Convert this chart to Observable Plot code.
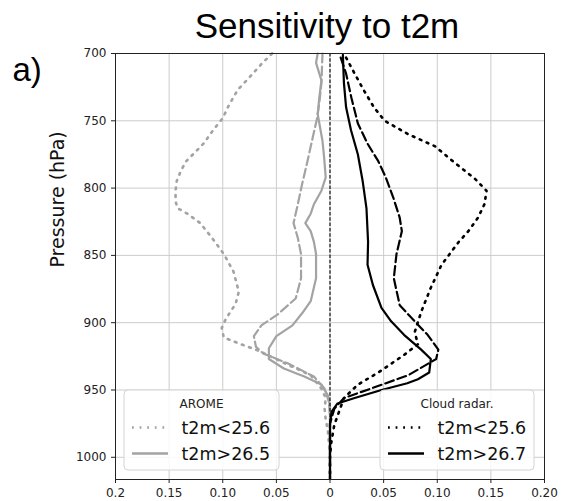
<!DOCTYPE html>
<html><head><meta charset="utf-8">
<script src="https://cdn.jsdelivr.net/npm/d3@7"></script>
<script src="https://cdn.jsdelivr.net/npm/@observablehq/plot@0.6"></script>
<style>body{margin:0;background:#fff;} #chart{position:relative;width:561px;height:501px;}</style>
</head><body><div id="chart"></div>
<script>
// ---- tick values and labels ----
const xTicks = [-0.2, -0.15, -0.1, -0.05, 0, 0.05, 0.1, 0.15, 0.2];
const xTickLabels = ["0.2", "0.15", "0.10", "0.05", "0", "0.05", "0.10", "0.15", "0.20"];
const yTicks = [700, 750, 800, 850, 900, 950, 1000];

// ---- series: [pressure (hPa), sensitivity] ----
const aromeCold = [[700,-0.054],[707,-0.063],[715,-0.072],[727,-0.086],[738,-0.094],[748,-0.100],[757,-0.109],[767,-0.118],[780,-0.134],[787,-0.139],[795,-0.143],[802,-0.144],[810,-0.144],[815,-0.142],[819,-0.133],[826,-0.121],[837,-0.110],[849,-0.099],[862,-0.090],[877,-0.085],[886,-0.088],[897,-0.097],[904,-0.101],[911,-0.099],[916,-0.083],[921,-0.066],[924,-0.058],[931,-0.040],[939,-0.018],[949,-0.008],[956,-0.004],[964,-0.005],[972,-0.004],[980,-0.002],[990,-0.001],[1000,0],[1016,0]];
const aromeMid = [[700,-0.007],[722,-0.008],[737,-0.010],[748,-0.012],[762,-0.016],[780,-0.021],[797,-0.026],[812,-0.030],[826,-0.034],[837,-0.030],[849,-0.027],[867,-0.027],[882,-0.032],[894,-0.049],[902,-0.064],[910,-0.071],[918,-0.069],[923,-0.062],[930,-0.040],[940,-0.015],[949,-0.005],[959,-0.001],[970,0],[1016,0]];
const aromeWarm = [[700,-0.0115],[707,-0.013],[720,-0.008],[733,-0.010],[745,-0.0115],[765,-0.007],[777,-0.0055],[792,-0.004],[802,-0.008],[812,-0.015],[819,-0.018],[826,-0.023],[832,-0.018],[840,-0.015],[849,-0.013],[867,-0.013],[884,-0.018],[893,-0.026],[902,-0.035],[910,-0.050],[919,-0.057],[927,-0.057],[934,-0.043],[940,-0.024],[946,-0.008],[954,-0.002],[962,0],[1016,0]];
const radarCold = [[703,0.015],[715,0.023],[728,0.032],[740,0.041],[750,0.051],[760,0.073],[769,0.098],[781,0.116],[793,0.135],[802,0.146],[812,0.144],[822,0.138],[832,0.129],[840,0.120],[857,0.104],[874,0.094],[892,0.085],[907,0.079],[916,0.082],[924,0.069],[937,0.045],[946,0.026],[956,0.013],[966,0.0085],[976,0.004],[990,0.001],[1000,0],[1016,0]];
const radarMid = [[703,0.010],[715,0.015],[733,0.020],[752,0.026],[767,0.035],[780,0.045],[792,0.052],[807,0.059],[822,0.065],[832,0.067],[849,0.062],[867,0.0595],[887,0.065],[899,0.079],[909,0.091],[920,0.101],[927,0.099],[939,0.073],[949,0.038],[956,0.013],[964,0.004],[975,0],[1016,0]];
const radarWarm = [[701,0.012],[722,0.013],[740,0.015],[757,0.0196],[775,0.026],[795,0.0305],[815,0.034],[840,0.0355],[857,0.035],[872,0.040],[889,0.048],[899,0.057],[909,0.069],[920,0.085],[927,0.094],[937,0.0925],[942,0.082],[945,0.072],[950,0.048],[956,0.023],[960,0.007],[966,0.0015],[975,0],[1016,0]];

const seriesNames = ["aromeCold","aromeMid","aromeWarm","radarCold","radarMid","radarWarm"];
const seriesData = [aromeCold, aromeMid, aromeWarm, radarCold, radarMid, radarWarm];
const legendTitles = ["AROME", "Cloud radar."];
const legendLabels = [["t2m<25.6", "t2m>26.5"], ["t2m<25.6", "t2m>26.7"]];
const titleText = "Sensitivity to t2m";
const panelLabel = "a)";
const yLabel = "Pressure (hPa)";

// ---- styles ----
const GRAY = "#a3a3a3", BLACK = "#000";
const DOT = "1.8,5.8", DASH = "9,4";
const styleOf = {
  aromeCold: {stroke: GRAY, dash: DOT},
  aromeMid: {stroke: GRAY, dash: DASH},
  aromeWarm: {stroke: GRAY, dash: null},
  radarCold: {stroke: BLACK, dash: DOT},
  radarMid: {stroke: BLACK, dash: DASH},
  radarWarm: {stroke: BLACK, dash: null}
};

const lineMarks = seriesNames.map((name, i) => {
  const rows = seriesData[i].map(([p, v]) => ({p, v}));
  const s = styleOf[name];
  return Plot.line(rows, {x: "v", y: "p", stroke: s.stroke,
    strokeWidth: s.dash === DOT ? 2.6 : 2.2,
    strokeDasharray: s.dash ?? undefined, curve: "linear"});
});

const fmtX = d => xTickLabels[xTicks.findIndex(t => Math.abs(t - d) < 1e-9)];

const plot = Plot.plot({
  width: 561, height: 501,
  marginLeft: 115, marginRight: 17, marginTop: 53, marginBottom: 22,
  style: {fontFamily: "DejaVu Sans", fontSize: "12px", color: "#222", background: "white", overflow: "visible"},
  x: {domain: [-0.2, 0.2], label: null},
  y: {domain: [700, 1016.5], reverse: true, label: null},
  marks: [
    Plot.gridX(xTicks, {stroke: "#cccccc", strokeOpacity: 1}),
    Plot.gridY(yTicks, {stroke: "#cccccc", strokeOpacity: 1}),
    ...lineMarks,
    Plot.ruleX([0], {stroke: "#000", strokeWidth: 1.1, strokeDasharray: "3.5,1.8"}),
    Plot.frame({stroke: "#222"}),
    Plot.axisX(xTicks, {tickSize: 4, tickPadding: 5, tickFormat: fmtX, label: null, fontSize: 12}),
    Plot.axisY(yTicks, {tickSize: 4, tickPadding: 5, tickFormat: d => String(d), label: null, fontSize: 12}),
    Plot.text([titleText], {text: d => d, frameAnchor: "top", lineAnchor: "bottom", dy: -16, dx: -3,
      fontSize: 35, fontFamily: "Liberation Sans", fill: "#000"}),
    Plot.text([panelLabel], {text: d => d, frameAnchor: "top-left", textAnchor: "start", lineAnchor: "bottom",
      dx: -103, dy: 27, fontSize: 33, fontFamily: "Liberation Sans", fill: "#000"}),
    Plot.text([yLabel], {text: d => d, frameAnchor: "left", rotate: -90, dx: -58, dy: 1,
      fontSize: 19, fontFamily: "DejaVu Sans", fill: "#111"})
  ]
});
document.getElementById("chart").appendChild(plot);

// ---- legends (drawn on top of the plot svg) ----
const svg = d3.select(plot);
function addLegend(x0, y0, w, h, title, labels, color) {
  const g = svg.append("g").attr("transform", `translate(${x0},${y0})`);
  g.append("rect").attr("width", w).attr("height", h).attr("rx", 4)
    .attr("fill", "white").attr("fill-opacity", 0.85).attr("stroke", "#d4d4d4").attr("stroke-width", 1);
  g.append("text").attr("x", w / 2).attr("y", 17.5).attr("text-anchor", "middle")
    .attr("font-family", "DejaVu Sans").attr("font-size", 12).attr("fill", "#222").text(title);
  const dashes = [DOT, null];
  labels.forEach((lab, i) => {
    const ly = 37.5 + i * 26;
    g.append("line").attr("x1", 8).attr("x2", 44).attr("y1", ly).attr("y2", ly)
      .attr("stroke", color).attr("stroke-width", i === 0 ? 2.6 : 2.4)
      .attr("stroke-dasharray", dashes[i]);
    g.append("text").attr("x", 57.5).attr("y", ly + 6.2).attr("text-anchor", "start")
      .attr("font-family", "DejaVu Sans").attr("font-size", 17.5).attr("fill", "#111").text(lab);
  });
}
addLegend(124, 390, 155, 80, legendTitles[0], legendLabels[0], GRAY);
addLegend(380, 390, 154, 80, legendTitles[1], legendLabels[1], BLACK);
</script>
</body></html>
